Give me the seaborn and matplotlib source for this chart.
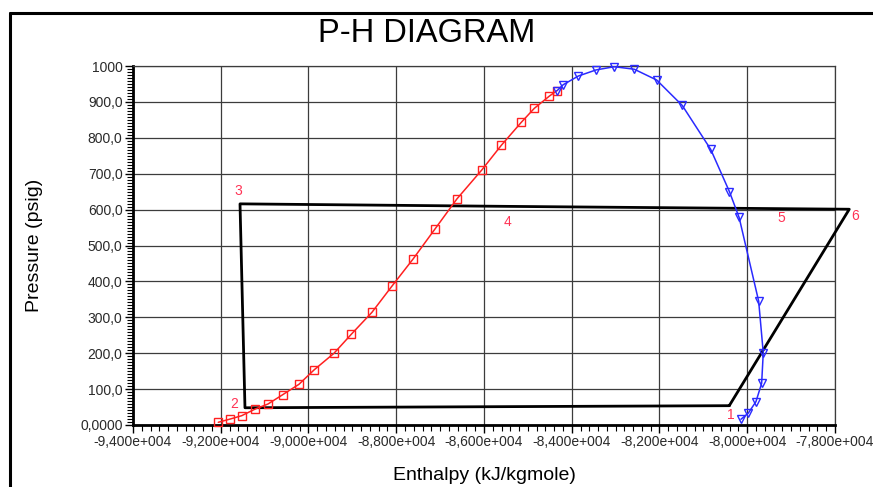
import matplotlib.pyplot as plt
import matplotlib.lines as mlines
from matplotlib.ticker import MultipleLocator, FixedLocator
import pandas as pd
import seaborn as sns

sns.set_style("white")
plt.rcParams["font.family"] = ["Liberation Sans", "DejaVu Sans"]

# bubble line (red) - enthalpy kJ/kgmole, pressure psig
bubble_h = [-92056, -91783, -91523, -91213, -90923, -90588, -90217, -89868,
            -89419, -89025, -88553, -88097, -87619, -87117, -86616, -86053,
            -85606, -85151, -84854, -84512, -84344]
bubble_p = [7.5, 16.7, 25.9, 44.6, 58.5, 84.4, 113.4, 154, 199.8, 252.7, 314,
            387, 462, 546, 630, 710, 779, 843, 882, 916, 931]

# dew line (blue)
dew_h = [-84337, -84193, -83851, -83448, -83031, -82575, -82065, -81481,
         -80834, -80406, -80185, -79740, -79635, -79672, -79802, -79977, -80144]
dew_p = [931, 948, 972, 989, 998, 991, 961, 890, 768, 650, 578, 345, 201,
         116, 65, 33, 16]

# refrigeration cycle points 1..6
cycle_labels = ["1", "2", "3", "4", "5", "6"]
cycle_h = [-80410, -91448, -91561, -85461, -79232, -77675]
cycle_p = [53.8, 48, 616, 609, 602.6, 601]

x_ticks = [-94000, -92000, -90000, -88000, -86000, -84000, -82000, -80000, -78000]
x_ticklabels = ["-9,400e+004", "-9,200e+004", "-9,000e+004", "-8,800e+004",
                "-8,600e+004", "-8,400e+004", "-8,200e+004", "-8,000e+004",
                "-7,800e+004"]
y_ticks = [0, 100, 200, 300, 400, 500, 600, 700, 800, 900, 1000]
y_ticklabels = ["0,0000", "100,0", "200,0", "300,0", "400,0", "500,0",
                "600,0", "700,0", "800,0", "900,0", "1000"]

df_bubble = pd.DataFrame({"h": bubble_h, "p": bubble_p})
df_dew = pd.DataFrame({"h": dew_h, "p": dew_p})
# closed loop: back to point 1 at the end
df_cycle = pd.DataFrame({"h": cycle_h + cycle_h[:1], "p": cycle_p + cycle_p[:1]})

fig = plt.figure(figsize=(8.73, 4.87), dpi=100)
ax = fig.add_axes([133 / 873, 1 - 425 / 487, 702 / 873, 359 / 487])

ax.grid(True, which="major", color="#3c3c3c", linewidth=0.9)
ax.set_axisbelow(True)

sns.lineplot(data=df_cycle, x="h", y="p", sort=False, estimator=None,
             color="black", linewidth=2.0, ax=ax, zorder=3)
sns.lineplot(data=df_bubble, x="h", y="p", sort=False, estimator=None,
             color="#ff2020", linewidth=1.1, marker="s", markersize=5.5,
             markerfacecolor="none", markeredgecolor="#ff2020",
             markeredgewidth=1.0, ax=ax, zorder=4)
sns.lineplot(data=df_dew, x="h", y="p", sort=False, estimator=None,
             color="#2a2aff", linewidth=1.1, marker="v", markersize=5.5,
             markerfacecolor="none", markeredgecolor="#2a2aff",
             markeredgewidth=1.0, ax=ax, zorder=4)

# cycle goes a little past the right edge, as in the source chart
for line in ax.lines:
    line.set_clip_on(False)

# point labels
offsets = [(1, -7), (-8, 3), (-1, 9), (0, -11.5), (0, -6.5), (4, -5)]
for lab, h, p, off in zip(cycle_labels, cycle_h, cycle_p, offsets):
    ax.annotate(lab, (h, p), xytext=off, textcoords="offset points",
                ha="center", va="center", color="#ff3355", fontsize=10,
                zorder=5, annotation_clip=False)

ax.set_xlim(x_ticks[0], x_ticks[-1])
ax.set_ylim(y_ticks[0], y_ticks[-1])
ax.xaxis.set_major_locator(FixedLocator(x_ticks))
ax.set_xticklabels(x_ticklabels)
ax.yaxis.set_major_locator(FixedLocator(y_ticks))
ax.set_yticklabels(y_ticklabels)
ax.xaxis.set_minor_locator(MultipleLocator(200))
ax.yaxis.set_minor_locator(MultipleLocator(100 / 12))

ax.tick_params(which="major", direction="out", length=6, width=1,
               color="black", labelcolor="#2a2a2a", labelsize=10, pad=1.5)
ax.tick_params(which="minor", direction="out", length=4, width=0.8,
               color="black")
ax.tick_params(axis="x", bottom=True, which="both")
ax.tick_params(axis="y", left=True, which="both")

for side in ["top", "right"]:
    ax.spines[side].set_color("#3c3c3c")
    ax.spines[side].set_linewidth(0.9)
for side in ["left", "bottom"]:
    ax.spines[side].set_color("black")
    ax.spines[side].set_linewidth(2.0)

ax.set_xlabel("Enthalpy (kJ/kgmole)", fontsize=14, color="black")
ax.set_ylabel("Pressure (psig)", fontsize=14, color="black")
ax.xaxis.set_label_coords(0.5, -0.142)
ax.xaxis.label.set_va("center")
ax.yaxis.set_label_coords(-0.14, 0.5)
ax.yaxis.label.set_va("center")

fig.text(427 / 873, 1 - 34 / 487, "P-H DIAGRAM", ha="center", va="center",
         fontsize=23.5, color="black")

# outer chart frame
fig.add_artist(mlines.Line2D([10 / 873, 1], [1 - 13 / 487] * 2,
                             color="black", linewidth=2.2))
fig.add_artist(mlines.Line2D([10 / 873] * 2, [0, 1 - 13 / 487],
                             color="black", linewidth=2.2))

fig.savefig("out.png", dpi=100)
